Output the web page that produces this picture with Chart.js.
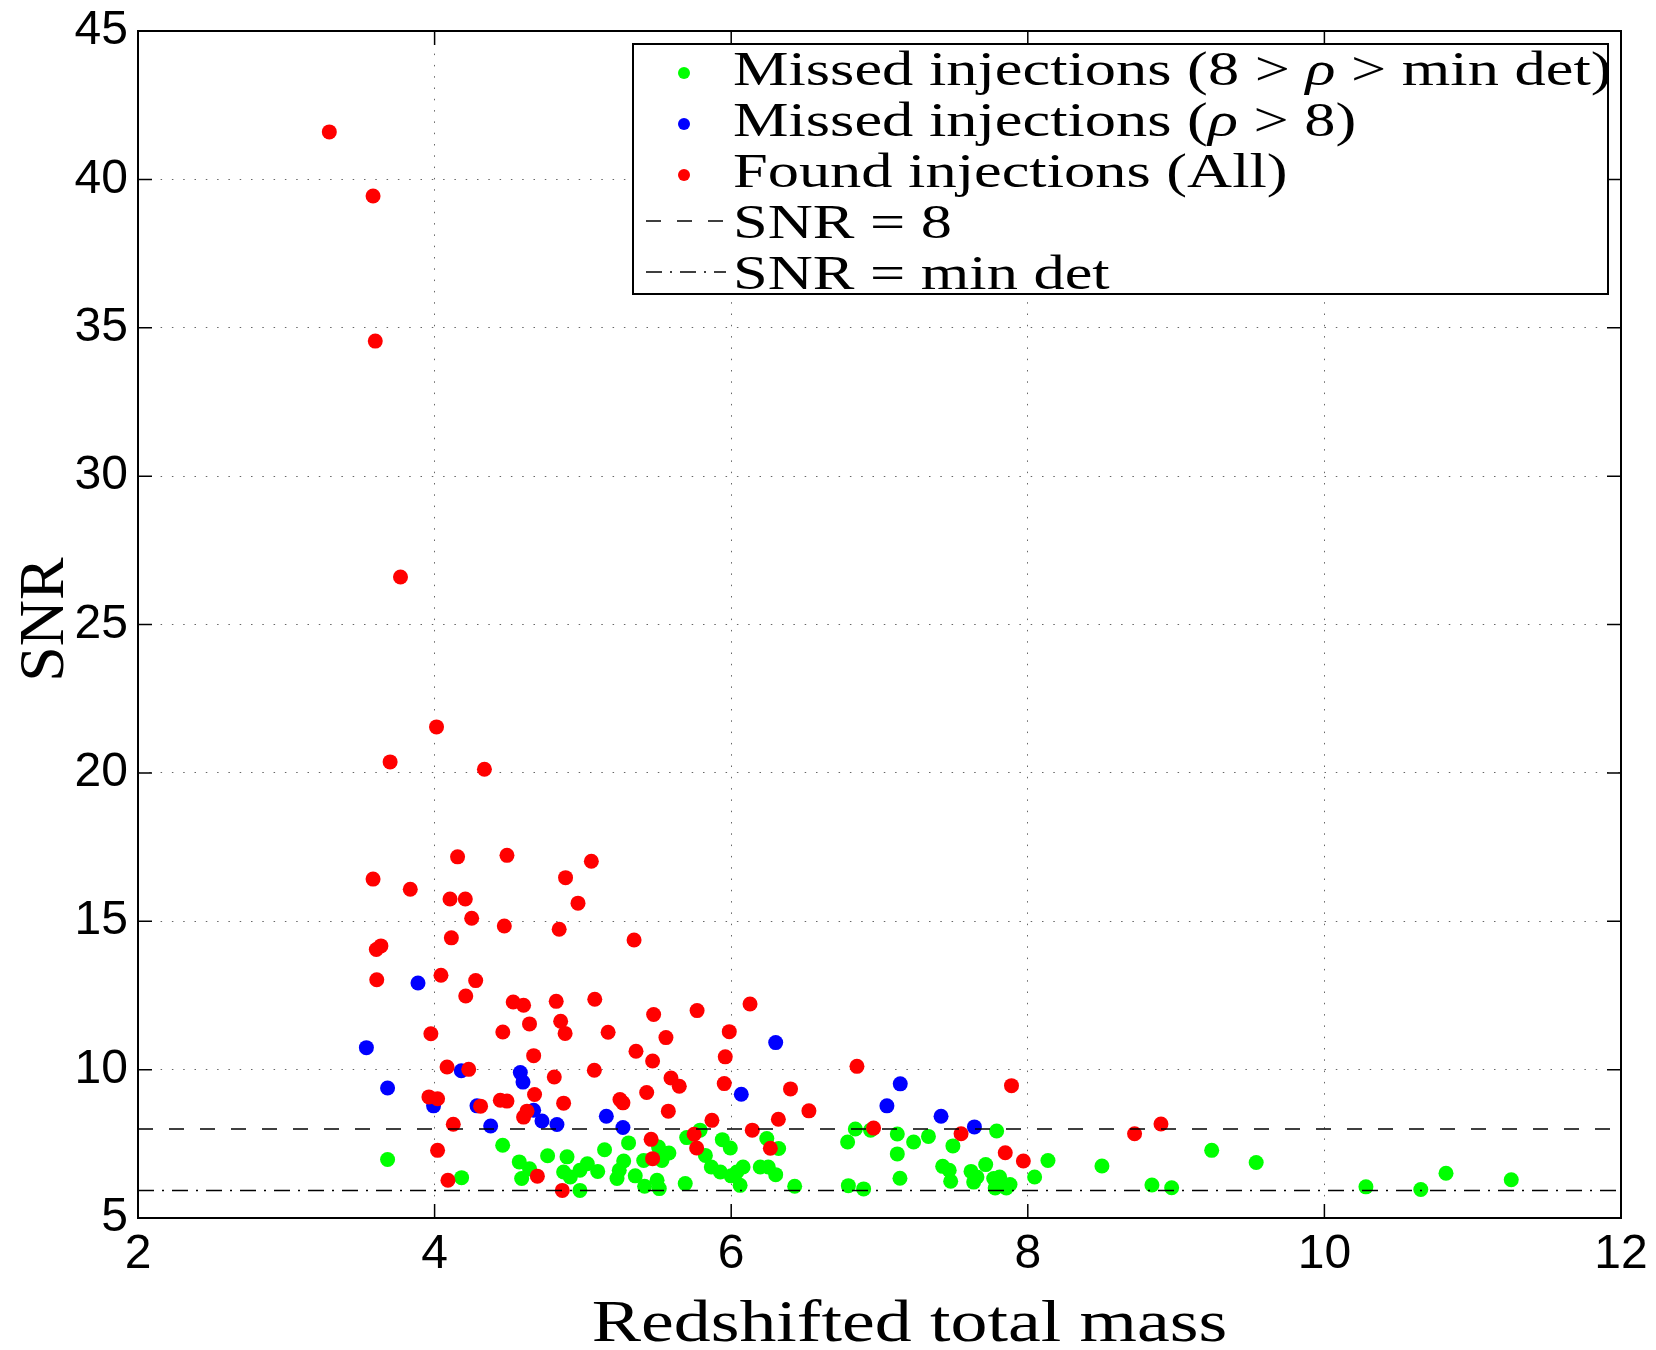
<!DOCTYPE html>
<html>
<head>
<meta charset="utf-8">
<script src="https://cdn.jsdelivr.net/npm/chart.js@4.4.1/dist/chart.umd.min.js"></script>
<style>
  html, body { margin: 0; padding: 0; background: #fff; }
  #wrap { width: 1656px; height: 1350px; position: relative; }
</style>
</head>
<body>
<div id="wrap"><canvas id="chart-snr"></canvas></div>
<script>
// ─── DATOS ───────────────────────────────────────────────────────────────────
const xTicks = [2, 4, 6, 8, 10, 12];
const yTicks = [5, 10, 15, 20, 25, 30, 35, 40, 45];
const snrUmbral = 8;
const snrMinDet = 5.93;

// Found injections (All)
const foundX = [3.29, 3.585, 3.60, 3.77, 4.013, 3.70, 4.336, 4.155, 4.488, 5.057, 3.585, 3.836, 4.883, 4.104, 4.207,
  4.967, 4.25, 4.47, 4.84, 5.345, 4.113, 3.607, 3.638, 3.61, 4.043, 4.277, 4.21, 4.53, 4.60, 4.82, 5.08, 5.77, 6.127,
  5.477, 4.64, 4.85, 4.88, 4.46, 3.975, 5.17, 5.56, 5.987, 5.358, 5.96, 4.668, 5.47, 4.084, 4.23, 4.807, 5.077, 5.594,
  5.65, 5.953, 6.40, 5.43, 4.674, 3.962, 4.02, 4.443, 4.488, 5.25, 5.27, 4.87, 4.31, 4.623, 4.60, 5.576, 5.87, 6.318,
  4.126, 6.142, 5.46, 5.75, 5.767, 6.264, 4.02, 5.47, 4.693, 4.09, 4.861, 6.524, 6.848, 6.96, 7.55, 7.89, 7.848, 7.97,
  8.72, 8.898];
const foundY = [41.6, 39.44, 34.55, 26.6, 21.55, 20.37, 20.12, 17.17, 17.22, 17.02, 16.42, 16.08, 16.47, 15.75, 15.75,
  15.61, 15.10, 14.84, 14.73, 14.37, 14.44, 14.05, 14.17, 13.03, 13.18, 13.0, 12.48, 12.28, 12.17, 12.30, 12.37, 11.99, 12.21,
  11.86, 11.54, 11.63, 11.22, 11.27, 11.21, 11.26, 11.08, 11.28, 10.62, 10.43, 10.47, 10.29, 10.09, 10.01, 9.75, 9.98, 9.72,
  9.44, 9.53, 9.35, 9.23, 9.16, 9.08, 9.02, 8.97, 8.94, 8.99, 8.88, 8.87, 8.77, 8.60, 8.40, 8.60, 8.29, 8.33,
  8.16, 7.96, 7.65, 7.82, 7.36, 7.35, 7.28, 7.0, 6.41, 6.27, 5.93, 8.61, 10.11, 8.03, 7.84, 9.46, 7.20, 6.92,
  7.84, 8.17];

// Missed injections (rho > 8)
const missAltoX = [3.888, 3.54, 3.683, 4.18, 4.578, 4.596, 3.993, 4.286, 4.668, 4.724, 4.378, 4.825, 5.158, 5.27,
  6.068, 6.30, 7.14, 7.05, 7.415, 7.64];
const missAltoY = [12.92, 10.74, 9.38, 9.96, 9.90, 9.58, 8.78, 8.78, 8.63, 8.27, 8.10, 8.15, 8.43, 8.05,
  9.17, 10.91, 9.52, 8.78, 8.43, 8.07];

// Missed injections (8 > rho > min det)
const missBajoX = [3.683, 4.182, 4.459, 4.571, 4.64, 4.587, 4.762, 4.893, 4.87, 4.915, 4.98, 5.03, 5.10, 4.98, 5.146,
  5.308, 5.275, 5.245, 5.23, 5.353, 5.416, 5.50, 5.515, 5.41, 5.51, 5.58, 5.533, 5.69, 5.70, 5.79, 5.826, 5.866, 5.927,
  5.94, 5.994, 6.0, 6.06, 6.08, 6.038, 6.196, 6.25, 6.30, 6.24, 6.32, 6.428, 6.785, 6.837, 6.94, 6.79, 6.893, 7.12,
  7.12, 7.138, 7.23, 7.33, 7.495, 7.426, 7.47, 7.48, 7.617, 7.657, 7.635, 7.716, 7.79, 7.77, 7.81, 7.78, 7.855, 7.88,
  8.046, 8.136, 8.50, 8.837, 8.97, 9.24, 9.54, 10.28, 10.65, 10.82, 11.26];
const missBajoY = [6.97, 6.36, 7.45, 6.89, 6.66, 6.33, 7.10, 7.06, 6.55, 6.38, 6.61, 6.83, 6.57, 5.93, 7.30,
  7.53, 6.92, 6.61, 6.33, 6.42, 6.07, 6.27, 5.99, 6.94, 7.39, 7.19, 6.94, 6.16, 7.71, 7.96, 7.11, 6.72, 6.55,
  7.64, 7.36, 6.42, 6.10, 6.72, 6.55, 6.72, 6.72, 6.46, 7.68, 7.34, 6.07, 7.56, 8.0, 7.96, 6.09, 5.98, 7.83,
  7.16, 6.34, 7.56, 7.75, 7.43, 6.74, 6.61, 6.24, 6.57, 6.38, 6.21, 6.80, 7.93, 6.33, 6.38, 6.01, 6.01, 6.13,
  6.38, 6.94, 6.75, 6.11, 6.02, 7.28, 6.87, 6.05, 5.96, 6.51, 6.29];

const pts = (xs, ys) => xs.map((x, i) => ({ x, y: ys[i] }));
const linea = v => [{ x: xTicks[0], y: v }, { x: xTicks[xTicks.length - 1], y: v }];

const SANS = '"Liberation Sans", Arial, Helvetica, sans-serif';
const SERIF = '"Liberation Serif", "Times New Roman", serif';

// ─── TEXTO SERIF ESTIRADO (tipo LaTeX) ─────────────────────────────────────
// partes: las impares van en cursiva (símbolos matemáticos)
function textoSerif(ctx, partes, x, y, size, sx) {
  ctx.save();
  ctx.translate(x, y);
  ctx.scale(sx, 1);
  ctx.fillStyle = '#000';
  ctx.textBaseline = 'alphabetic';
  ctx.textAlign = 'left';
  let cx = 0;
  partes.forEach((t, i) => {
    ctx.font = (i % 2 ? 'italic ' : '') + size + 'px ' + SERIF;
    ctx.fillText(t, cx, 0);
    cx += ctx.measureText(t).width;
  });
  ctx.restore();
}

function anchoSerif(ctx, partes, size, sx) {
  let w = 0;
  ctx.save();
  partes.forEach((t, i) => {
    ctx.font = (i % 2 ? 'italic ' : '') + size + 'px ' + SERIF;
    w += ctx.measureText(t).width;
  });
  ctx.restore();
  return w * sx;
}

const DASH_8 = [15, 16];
const DASH_MIN = [16, 8, 2, 8];

const leyenda = [
  { tipo: 'punto', color: '#00ff00', partes: ['Missed injections (8 > ', 'ρ', ' > min det)'] },
  { tipo: 'punto', color: '#0000ff', partes: ['Missed injections (', 'ρ', ' > 8)'] },
  { tipo: 'punto', color: '#ff0000', partes: ['Found injections (All)'] },
  { tipo: 'linea', dash: DASH_8, partes: ['SNR = 8'] },
  { tipo: 'linea', dash: DASH_MIN, partes: ['SNR = min det'] }
];

// ─── MARCO, TICKS INTERIORES, LEYENDA Y TÍTULOS ────────────────────────────
const marcoPlugin = {
  id: 'marco',
  afterDraw(chart) {
    const { ctx, chartArea: a, scales: { x, y } } = chart;
    ctx.save();

    // ticks hacia adentro en los 4 lados
    ctx.strokeStyle = '#000';
    ctx.lineWidth = 1.5;
    ctx.setLineDash([]);
    const tl = 14;
    xTicks.forEach(v => {
      const px = x.getPixelForValue(v);
      ctx.beginPath();
      ctx.moveTo(px, a.bottom); ctx.lineTo(px, a.bottom - tl);
      ctx.moveTo(px, a.top); ctx.lineTo(px, a.top + tl);
      ctx.stroke();
    });
    yTicks.forEach(v => {
      const py = y.getPixelForValue(v);
      ctx.beginPath();
      ctx.moveTo(a.left, py); ctx.lineTo(a.left + tl, py);
      ctx.moveTo(a.right, py); ctx.lineTo(a.right - tl, py);
      ctx.stroke();
    });

    // caja de la leyenda
    const cx0 = a.left + 495, cy0 = a.top + 13, cw = 975, ch = 250;
    ctx.fillStyle = '#fff';
    ctx.fillRect(cx0, cy0, cw, ch);
    ctx.lineWidth = 2;
    ctx.strokeRect(cx0, cy0, cw, ch);

    leyenda.forEach((it, i) => {
      const base = cy0 + 41 + i * 51;
      if (it.tipo === 'punto') {
        ctx.fillStyle = it.color;
        ctx.beginPath();
        ctx.arc(cx0 + 51, base - 12, 6, 0, Math.PI * 2);
        ctx.fill();
      } else {
        ctx.strokeStyle = '#000';
        ctx.lineWidth = 1.5;
        ctx.setLineDash(it.dash);
        ctx.beginPath();
        ctx.moveTo(cx0 + 13, base - 17);
        ctx.lineTo(cx0 + 93, base - 17);
        ctx.stroke();
        ctx.setLineDash([]);
      }
      textoSerif(ctx, it.partes, cx0 + 100, base, 48, 1.3);
    });

    // marco de los ejes
    ctx.strokeStyle = '#000';
    ctx.lineWidth = 2;
    ctx.strokeRect(a.left, a.top, a.right - a.left, a.bottom - a.top);

    // título eje x
    const tx = ['Redshifted total mass'];
    const wx = anchoSerif(ctx, tx, 60, 1.23);
    textoSerif(ctx, tx, (a.left + a.right) / 2 + 30 - wx / 2, 1341, 60, 1.23);

    // título eje y (rotado)
    ctx.save();
    ctx.translate(63, (a.top + a.bottom) / 2 - 5);
    ctx.rotate(-Math.PI / 2);
    const ty = ['SNR'];
    const wy = anchoSerif(ctx, ty, 64, 1);
    textoSerif(ctx, ty, -wy / 2, 0, 64, 1);
    ctx.restore();

    ctx.restore();
  }
};

// ─── GRÁFICO ─────────────────────────────────────────────────────────────────
const ctx = document.getElementById('chart-snr').getContext('2d');
new Chart(ctx, {
  type: 'scatter',
  data: {
    datasets: [
      { label: 'SNR = 8', data: linea(snrUmbral), showLine: true, borderColor: '#000', borderWidth: 1.5,
        borderDash: DASH_8, pointRadius: 0, order: 0 },
      { label: 'SNR = min det', data: linea(snrMinDet), showLine: true, borderColor: '#000', borderWidth: 1.5,
        borderDash: DASH_MIN, pointRadius: 0, order: 0 },
      { label: 'Found injections (All)', data: pts(foundX, foundY), backgroundColor: '#ff0000',
        pointRadius: 7.5, borderWidth: 0, order: 1 },
      { label: 'Missed injections (ρ > 8)', data: pts(missAltoX, missAltoY), backgroundColor: '#0000ff',
        pointRadius: 7.5, borderWidth: 0, order: 2 },
      { label: 'Missed injections (8 > ρ > min det)', data: pts(missBajoX, missBajoY), backgroundColor: '#00ff00',
        pointRadius: 7.5, borderWidth: 0, order: 3 }
    ]
  },
  options: {
    responsive: true,
    maintainAspectRatio: false,
    animation: false,
    layout: { padding: { top: 31, right: 35, left: 0, bottom: 0 } },
    plugins: { legend: { display: false }, tooltip: { enabled: false } },
    scales: {
      x: {
        type: 'linear', min: xTicks[0], max: xTicks[xTicks.length - 1],
        afterBuildTicks: s => { s.ticks = xTicks.map(v => ({ value: v })); },
        afterFit: s => { s.height = 132; },
        ticks: { color: '#000', font: { family: SANS, size: 48 }, padding: 8, maxRotation: 0 },
        grid: { color: 'rgba(0,0,0,0.6)', lineWidth: 1, drawTicks: false },
        border: { display: false, dash: [1.5, 9.8] }
      },
      y: {
        type: 'linear', min: yTicks[0], max: yTicks[yTicks.length - 1],
        afterBuildTicks: s => { s.ticks = yTicks.map(v => ({ value: v })); },
        afterFit: s => { s.width = 138; s.paddingTop = 31; s.paddingBottom = 31; },
        ticks: { color: '#000', font: { family: SANS, size: 48 }, padding: 10 },
        grid: { color: 'rgba(0,0,0,0.6)', lineWidth: 1, drawTicks: false },
        border: { display: false, dash: [1.5, 9.8] }
      }
    }
  },
  plugins: [marcoPlugin]
});
</script>
</body>
</html>
